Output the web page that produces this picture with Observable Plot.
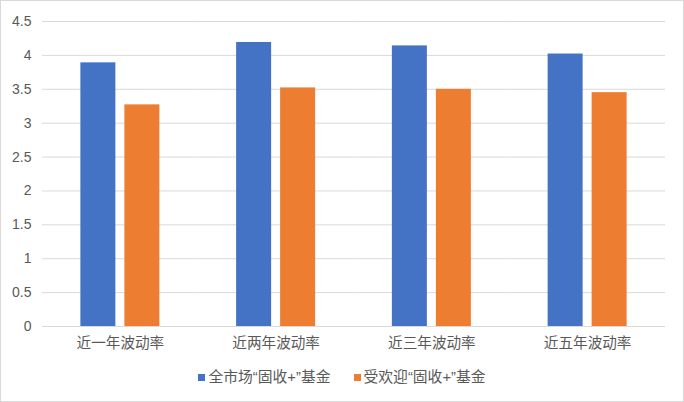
<!DOCTYPE html>
<html><head><meta charset="utf-8">
<script src="https://cdn.jsdelivr.net/npm/d3@7"></script>
<script src="https://cdn.jsdelivr.net/npm/@observablehq/plot@0.6"></script>
<style>
body{margin:0;background:#fff;}
#chart{position:relative;box-sizing:border-box;width:684px;height:402px;border:1px solid #d9d9d9;font-family:"Noto Sans CJK SC","Liberation Sans",sans-serif;color:#595959;overflow:hidden;}
#plot{position:absolute;left:0;top:0;}
#legend{position:absolute;left:0;right:0;top:366px;display:flex;justify-content:center;gap:23px;font-size:14.8px;font-family:"Liberation Sans","Noto Sans CJK SC",sans-serif;line-height:20px;}
#legend .item{display:flex;align-items:center;gap:3px;}
#legend .sw{width:7px;height:7px;display:inline-block;}
</style>
</head><body>
<div id="chart"><div id="plot"></div><div id="legend"></div></div>
<script>
const categories = ["近一年波动率","近两年波动率","近三年波动率","近五年波动率"];
const seriesNames = ["全市场“固收+”基金","受欢迎“固收+”基金"];
const allMarket = [3.89, 4.19, 4.14, 4.02];
const popular = [3.27, 3.52, 3.50, 3.45];
const colors = ["#4472C4","#ED7D31"];
const yTicks = [0,0.5,1,1.5,2,2.5,3,3.5,4,4.5];

const rows = [];
categories.forEach((c,i)=>{
  rows.push({cat:c, series:seriesNames[0], value:allMarket[i]});
  rows.push({cat:c, series:seriesNames[1], value:popular[i]});
});

const chart = Plot.plot({
  width: 682, height: 362,
  marginTop: 20, marginBottom: 37, marginLeft: 41, marginRight: 18,
  style: {fontFamily: '"Liberation Sans","Noto Sans CJK SC",sans-serif', color:"#595959", background:"#fff"},
  fx: {domain: categories, padding: 0, round: false, label: null},
  x: {domain: seriesNames, paddingInner: 0.2045, paddingOuter: 0.872, round: false, axis: null},
  y: {domain: [0,4.5], label: null},
  color: {domain: seriesNames, range: colors},
  marks: [
    Plot.gridY(yTicks, {stroke:"#d9d9d9", strokeOpacity:1}),
    Plot.barY(rows, {fx:"cat", x:"series", y:"value", fill:"series"}),
    Plot.axisY(yTicks, {tickSize:0, tickPadding:11, fontSize:14, tickFormat: d => String(d), label:null}),
    Plot.axisFx({anchor:"bottom", tickSize:0, tickPadding:11, fontSize:14.6, fontWeight:"normal", fontFamily:'"Noto Sans CJK SC",sans-serif', label:null})
  ]
});
document.getElementById("plot").appendChild(chart);

const lg = document.getElementById("legend");
seriesNames.forEach((s,i)=>{
  const it = document.createElement("span"); it.className="item";
  const sw = document.createElement("span"); sw.className="sw"; sw.style.background=colors[i];
  const t = document.createElement("span"); t.textContent = s;
  it.appendChild(sw); it.appendChild(t); lg.appendChild(it);
});
</script>
</body></html>
